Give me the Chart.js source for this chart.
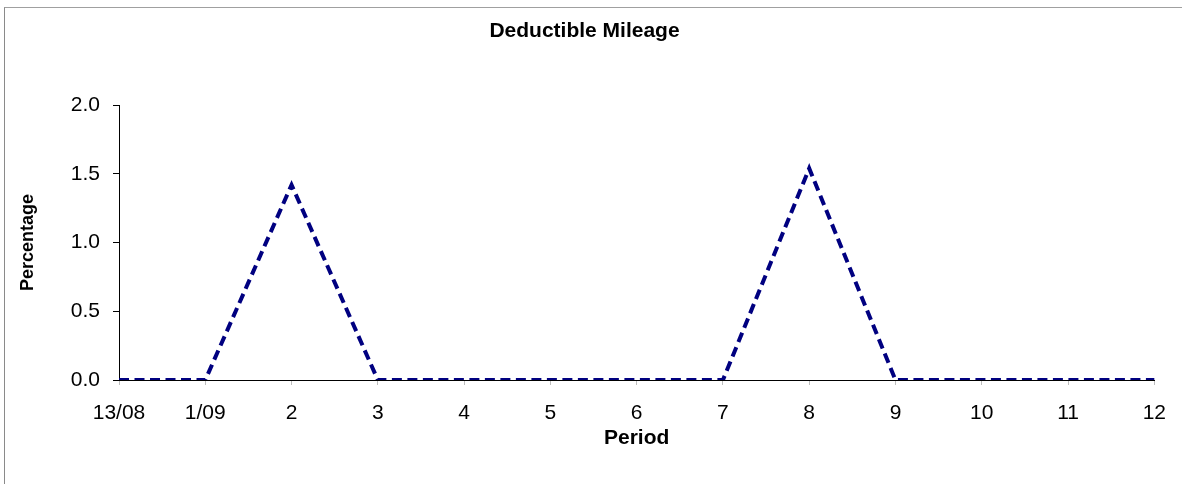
<!DOCTYPE html>
<html>
<head>
<meta charset="utf-8">
<script src="https://cdn.jsdelivr.net/npm/chart.js@4/dist/chart.umd.min.js"></script>
<style>
  html, body { margin: 0; padding: 0; background: #fff; }
  #wrap { position: relative; width: 1182px; height: 484px; overflow: hidden; }
  #frame { position: absolute; left: 4px; top: 7px; width: 1300px; height: 600px;
           border-left: 1px solid #8a8a8a; border-top: 1px solid #a0a0a0; pointer-events: none; }
  canvas { position: absolute; left: 0; top: 0; }
</style>
</head>
<body>
<div id="wrap">
  <div id="frame"></div>
  <canvas id="c" width="1182" height="484"></canvas>
</div>
<script>
const categories = ["13/08", "1/09", "2", "3", "4", "5", "6", "7", "8", "9", "10", "11", "12"];
const mileageValues = [0, 0, 1.42, 0, 0, 0, 0, 0, 1.54, 0, 0, 0, 0];
const yTicks = [0, 0.5, 1.0, 1.5, 2.0];
const chartTitle = "Deductible Mileage";
const xTitle = "Period";
const yTitle = "Percentage";

const FONT = "'Liberation Sans', Arial, Helvetica, sans-serif";
Chart.defaults.font.family = FONT;
Chart.defaults.color = '#000';

new Chart(document.getElementById('c'), {
  type: 'line',
  data: {
    labels: categories,
    datasets: [{
      label: chartTitle,
      data: mileageValues,
      borderColor: '#000080',
      backgroundColor: '#000080',
      borderWidth: 4,
      borderDash: [10, 5.5],
      borderCapStyle: 'butt',
      pointRadius: 0,
      pointHoverRadius: 0,
      tension: 0,
      fill: false
    }]
  },
  options: {
    responsive: false,
    animation: false,
    devicePixelRatio: 1,
    layout: { padding: { left: 12, right: 25, top: 0, bottom: 0 } },
    plugins: {
      legend: { display: false },
      tooltip: { enabled: false },
      title: {
        display: true,
        text: chartTitle,
        color: '#000',
        font: { size: 21, weight: 'bold', family: FONT },
        padding: { top: 19, bottom: 61 }
      }
    },
    scales: {
      x: {
        type: 'category',
        offset: false,
        afterFit: (s) => { s.height = 104; },
        border: { display: true, color: '#000', width: 1 },
        grid: { display: true, drawOnChartArea: false, drawTicks: true, tickLength: 5, color: '#bdbdbd' },
        ticks: { autoSkip: false, maxRotation: 0, minRotation: 0, padding: 16, color: '#000',
                 font: { size: 21, family: FONT } },
        title: { display: true, text: xTitle, color: '#000',
                 font: { size: 21, weight: 'bold', family: FONT },
                 padding: { top: 0, bottom: 33 } }
      },
      y: {
        min: 0,
        max: 2,
        afterFit: (s) => { s.width = 107; },
        afterBuildTicks: (s) => { s.ticks = yTicks.map(v => ({ value: v })); },
        border: { display: true, color: '#000', width: 1 },
        grid: { display: true, drawOnChartArea: false, drawTicks: true, tickLength: 6, color: '#000' },
        ticks: { padding: 13, color: '#000', font: { size: 21, family: FONT },
                 callback: (v) => Number(v).toFixed(1) },
        title: { display: true, text: yTitle, color: '#000',
                 font: { size: 18, weight: 'bold', family: FONT },
                 padding: { top: 5, bottom: 0 } }
      }
    }
  }
});
</script>
</body>
</html>
